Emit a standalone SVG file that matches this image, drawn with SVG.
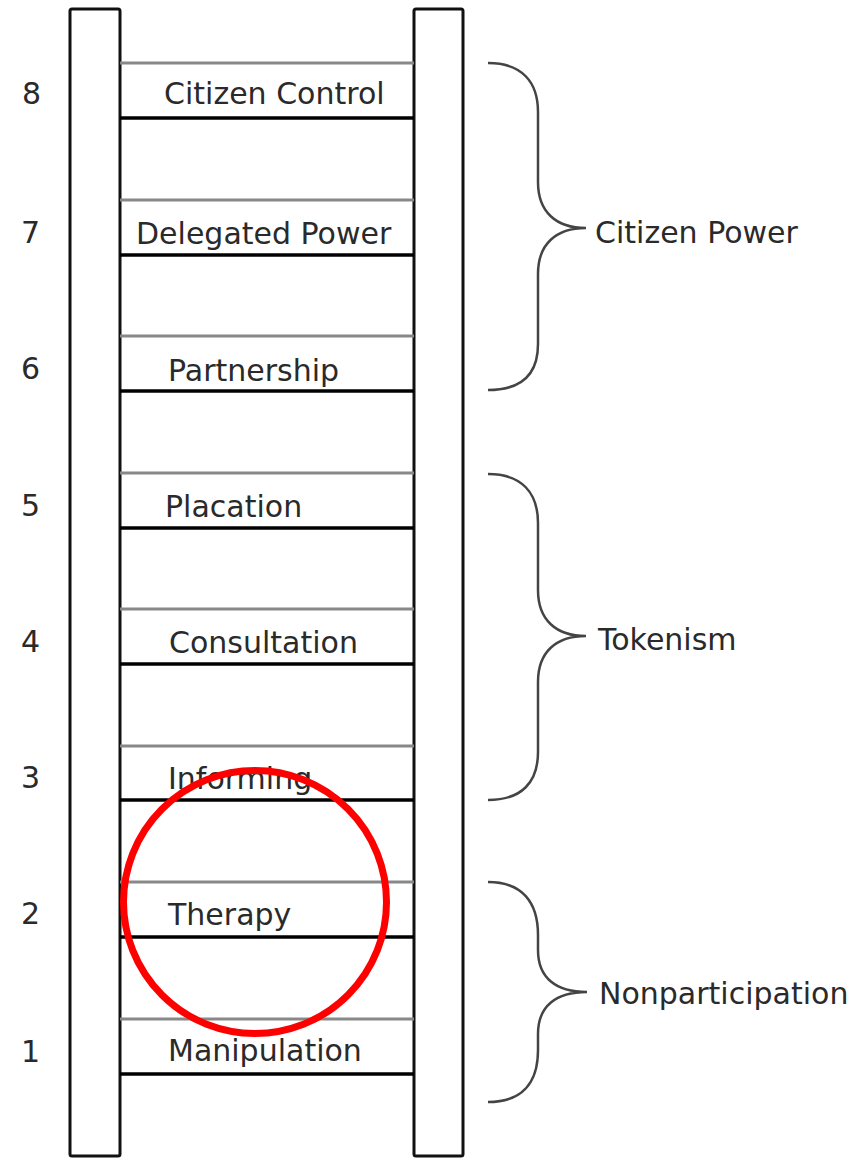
<svg xmlns="http://www.w3.org/2000/svg" width="864" height="1159" viewBox="0 0 864 1159">
<style>
.rail{fill:#fff;stroke:#111;stroke-width:3}
.top{stroke:#888;stroke-width:3}
.bot{stroke:#000;stroke-width:3.5}
.t{font-family:"DejaVu Sans",sans-serif;font-size:30px;fill:#2a2a2a}
.brace{fill:none;stroke:#444;stroke-width:2.5}
</style>
<rect width="864" height="1159" fill="#fff"/>
<g id="ladder">
<rect class="rail" x="70" y="9" width="50" height="1147" rx="2"/>
<rect class="rail" x="414" y="9" width="49" height="1147" rx="2"/>
</g>
<g id="rung8"><line class="top" x1="120" y1="63" x2="414" y2="63"/><line class="bot" x1="120" y1="118" x2="414" y2="118"/><text class="t" x="164" y="104">Citizen Control</text><text class="t" x="22" y="104">8</text></g>
<g id="rung7"><line class="top" x1="120" y1="200" x2="414" y2="200"/><line class="bot" x1="120" y1="255" x2="414" y2="255"/><text class="t" x="136" y="244">Delegated Power</text><text class="t" x="21" y="243">7</text></g>
<g id="rung6"><line class="top" x1="120" y1="336" x2="414" y2="336"/><line class="bot" x1="120" y1="391" x2="414" y2="391"/><text class="t" x="168" y="381">Partnership</text><text class="t" x="21" y="379">6</text></g>
<g id="rung5"><line class="top" x1="120" y1="473" x2="414" y2="473"/><line class="bot" x1="120" y1="528" x2="414" y2="528"/><text class="t" x="165" y="517">Placation</text><text class="t" x="21" y="516">5</text></g>
<g id="rung4"><line class="top" x1="120" y1="609" x2="414" y2="609"/><line class="bot" x1="120" y1="664" x2="414" y2="664"/><text class="t" x="169" y="653">Consultation</text><text class="t" x="21" y="652">4</text></g>
<g id="rung3"><line class="top" x1="120" y1="746" x2="414" y2="746"/><line class="bot" x1="120" y1="800" x2="414" y2="800"/><text class="t" x="168" y="789">Informing</text><text class="t" x="21" y="788">3</text></g>
<g id="rung2"><line class="top" x1="120" y1="882" x2="414" y2="882"/><line class="bot" x1="120" y1="937" x2="414" y2="937"/><text class="t" x="168" y="925">Therapy</text><text class="t" x="21" y="924">2</text></g>
<g id="rung1"><line class="top" x1="120" y1="1019" x2="414" y2="1019"/><line class="bot" x1="120" y1="1074" x2="414" y2="1074"/><text class="t" x="168" y="1061">Manipulation</text><text class="t" x="21" y="1062">1</text></g>
<g id="citizen-power">
<path class="brace" d="M488,63 C522,63 538,82 538,112 L538,182 C538,212 556,228 586,228 C556,228 538,244 538,274 L538,344 C538,374 522,390 488,390"/>
<text class="t" x="595" y="243">Citizen Power</text>
</g>
<g id="tokenism">
<path class="brace" d="M488,474 C522,474 538,493 538,523 L538,590 C538,620 556,636 586,636 C556,636 538,652 538,682 L538,752 C538,782 522,800 488,800"/>
<text class="t" x="598" y="650">Tokenism</text>
</g>
<g id="nonparticipation">
<path class="brace" d="M488,882 C522,882 538,902 538,935 L538,950 C538,978 556,992 587,992 C556,992 538,1006 538,1034 L538,1050 C538,1083 522,1102 488,1102"/>
<text class="t" x="599" y="1004">Nonparticipation</text>
</g>
<g id="highlight">
<circle cx="255" cy="902" r="131.5" fill="none" stroke="#f00" stroke-width="7"/>
</g>
</svg>
